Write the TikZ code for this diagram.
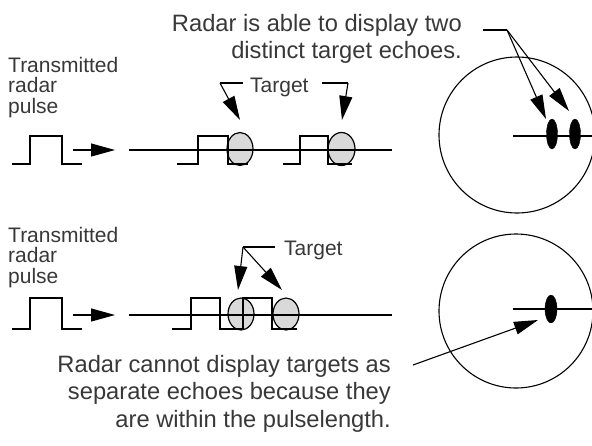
\documentclass[tikz,border=0pt]{standalone}
\usepackage{fontspec}
\setmainfont{Liberation Sans}
\usetikzlibrary{arrows.meta}
\definecolor{txt}{HTML}{383838}
\definecolor{echofill}{HTML}{D9D9D9}
\tikzset{
  wire/.style={line width=1.3pt, line join=miter},
  ptr/.style={line width=1.1pt, -{Triangle[length=24pt,width=13pt]}},
  plain/.style={line width=1.1pt},
  echo/.style={draw, line width=1.2pt, fill=echofill},
  blob/.style={fill=black, draw=black},
  radarscope/.style={line width=1.1pt},
  small/.style={text=txt, inner sep=0pt, font=\fontsize{21}{20.5}\selectfont, align=left},
  big/.style={text=txt, inner sep=0pt, font=\fontsize{23.7}{27.5}\selectfont, align=right},
}
\begin{document}
\begin{tikzpicture}[x=1pt,y=-1pt]
\useasboundingbox (0,0) rectangle (592,445);

% ---------- Top row ----------
\node[small, anchor=north west] (tx1) at (8,57) {Transmitted\\radar\\pulse};
\draw[wire] (12,164) -- (30,164) -- (30,136) -- (62,136) -- (62,164) -- (82,164);
\coordinate (a1s) at (73,150);
\coordinate (a1e) at (115,150);
\draw[ptr] (a1s) -- (a1e);

\draw[echo] (240,149) ellipse [x radius=13, y radius=16.5];
\draw[echo] (341.5,149) ellipse [x radius=13.5, y radius=16.5];
\coordinate (e1) at (240,120);
\coordinate (e2) at (342,120);
\draw[wire] (129,150) -- (392,150);
\draw[wire] (177,164) -- (198,164) -- (198,136) -- (228,136) -- (228,164) -- (248,164);
\draw[wire] (283,164) -- (300,164) -- (300,136) -- (328,136) -- (328,164) -- (352,164);

\node[small, anchor=base west] (t1) at (250,92) {Target};
\coordinate (t1l) at (220,83);
\coordinate (t1r) at (348,83);
\draw[plain] (243,83) -- (t1l);
\draw[ptr] (t1l) -- (e1);
\draw[plain] (322,83) -- (t1r);
\draw[ptr] (t1r) -- (e2);

\node[big, anchor=north east] (r1) at (462,14) {Radar is able to display two\\distinct target echoes.};
\coordinate (r1a) at (483,30);
\coordinate (r1b) at (507,30);
\draw[plain] (r1a) -- (r1b);
\coordinate (b1) at (546,119);
\coordinate (b2) at (569,111);
\draw[ptr] (r1b) -- (b1);
\draw[ptr] (r1b) -- (b2);

\draw[radarscope] (517,135) circle [radius=78];
\draw[plain] (513,136) -- (592,136);
\fill[blob] (552,134) ellipse [x radius=5.5, y radius=15];
\fill[blob] (575,134) ellipse [x radius=5.5, y radius=15];

% ---------- Bottom row ----------
\node[small, anchor=north west] (tx2) at (8,227) {Transmitted\\radar\\pulse};
\draw[wire] (12,329) -- (30,329) -- (30,298) -- (62,298) -- (62,329) -- (82,329);
\coordinate (a2s) at (73,315);
\coordinate (a2e) at (115,315);
\draw[ptr] (a2s) -- (a2e);

\draw[echo] (241,314) ellipse [x radius=13, y radius=16];
\draw[echo] (286,314) ellipse [x radius=13, y radius=16];
\draw[wire] (129,315) -- (392,315);
\draw[wire] (172,329) -- (191,329) -- (191,298) -- (220,298) -- (220,329) -- (243,329)
  -- (243,298) -- (272,298) -- (272,329) -- (297,329);

\node[small, anchor=base west] (t2) at (284,255) {Target};
\coordinate (t2k) at (243,247);
\coordinate (e3) at (238,290);
\coordinate (e4) at (282,290);
\draw[plain] (275,247) -- (t2k);
\draw[ptr] (t2k) -- (e3);
\draw[ptr] (t2k) -- (e4);

\draw[radarscope] (516,311) circle [radius=77];
\draw[plain] (513,309) -- (592,309);
\fill[blob] (551,309) ellipse [x radius=6, y radius=14];

\node[big, anchor=north east] (r2) at (391,355) {Radar cannot display targets as\\separate echoes because they\\are within the pulselength.};
\coordinate (p1) at (413,365);
\coordinate (p2) at (538,320);
\draw[ptr] (p1) -- (p2);
\end{tikzpicture}
\end{document}
